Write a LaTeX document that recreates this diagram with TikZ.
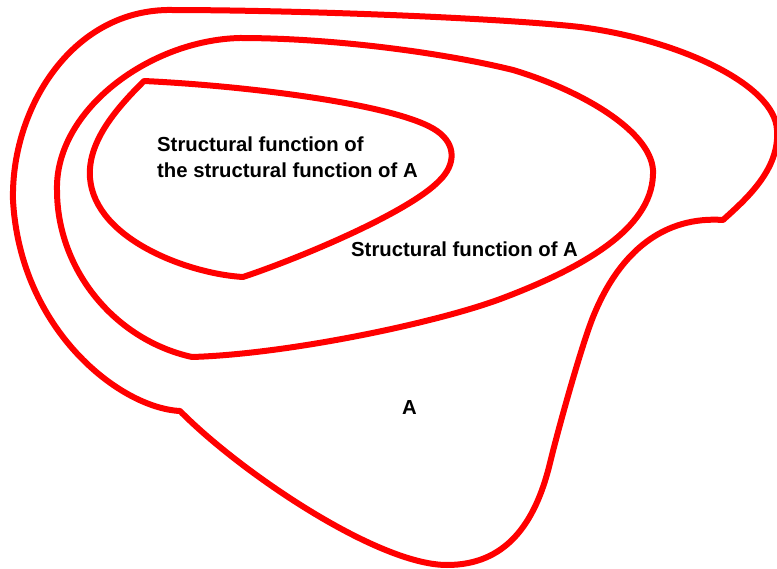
\documentclass[tikz,border=0pt]{standalone}
\usepackage{fontspec}
\setmainfont{Liberation Sans}
\begin{document}
\begin{tikzpicture}[x=1pt,y=-1pt,
  contour/.style={draw=red,line width=6pt,line join=round},
  lbl/.style={inner sep=0pt,font=\fontsize{20.3}{26}\selectfont\bfseries,align=left}]
\useasboundingbox (0,0) rectangle (777,569);
% outer contour (A)
\coordinate (ok1) at (180,411);
\coordinate (ok2) at (723,220);
\draw[contour] (ok1) .. controls (120,408) and (20,330) .. (13,200)
  .. controls (11,110) and (70,12) .. (167,10)
  .. controls (300,10) and (500,18) .. (580,27)
  .. controls (680,40) and (775,85) .. (777,130)
  .. controls (780,170) and (745,200) .. (ok2)
  .. controls (665,216) and (620,250) .. (593,317)
  .. controls (581,347) and (558,430) .. (550,463)
  .. controls (535,525) and (505,565) .. (447,565)
  .. controls (377,565) and (239,471) .. (ok1) -- cycle;
% middle contour
\coordinate (mk) at (192,357);
\draw[contour] (mk) .. controls (115,340) and (57,270) .. (57,190)
  .. controls (55,110) and (150,40) .. (240,38)
  .. controls (330,38) and (440,52) .. (513,70)
  .. controls (580,90) and (650,130) .. (653,170)
  .. controls (655,225) and (590,265) .. (503,298)
  .. controls (440,322) and (290,354) .. (mk) -- cycle;
% inner contour
\coordinate (ik1) at (144,81);
\coordinate (ik2) at (243,277);
\draw[contour] (ik1) .. controls (250,86) and (400,105) .. (437,131)
  .. controls (457,145) and (455,165) .. (440,180)
  .. controls (410,212) and (300,258) .. (ik2)
  .. controls (190,274) and (95,240) .. (90,178)
  .. controls (87,140) and (120,105) .. (ik1) -- cycle;
\node[lbl,anchor=base west] (inner) at (157,178) {Structural function of\\the structural function of A};
\node[lbl,anchor=base west] (middle) at (351,257) {Structural function of A};
\node[lbl,anchor=base] (outer) at (409.5,415) {A};
\end{tikzpicture}
\end{document}
